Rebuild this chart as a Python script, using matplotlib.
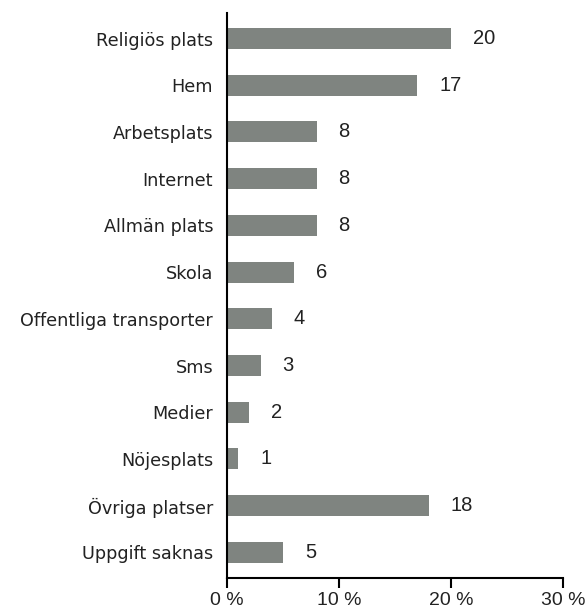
import matplotlib.pyplot as plt
import numpy as np

# Kategorier och värden (procent)
platser = ["Religiös plats", "Hem", "Arbetsplats", "Internet", "Allmän plats",
           "Skola", "Offentliga transporter", "Sms", "Medier", "Nöjesplats",
           "Övriga platser", "Uppgift saknas"]
andel = [20, 17, 8, 8, 8, 6, 4, 3, 2, 1, 18, 5]
xticks = [0, 10, 20, 30]
xticklabels = ["0 %", "10 %", "20 %", "30 %"]

plt.rcParams['font.family'] = ['DejaVu Sans']
textfarg = "#222222"

fig = plt.figure(figsize=(5.87, 6.14), dpi=100)
ax = fig.add_axes([0.3867, 0.0586, 0.5725, 0.9204])

y = np.arange(len(platser))
ax.barh(y, andel, height=0.45, color="#7f8480")

for yi, v in zip(y, andel):
    ax.text(v + 1.95, yi, str(v), va="center", ha="left", fontsize=14.5,
            family=["Liberation Sans", "DejaVu Sans"], color=textfarg)

ax.set_yticks(y)
ax.set_yticklabels(platser, fontsize=12.7, color=textfarg)
ax.set_ylim(len(platser) - 0.45, -0.55)
ax.set_xlim(0, 30)
ax.set_xticks(xticks)
ax.set_xticklabels(xticklabels, fontsize=14, color=textfarg,
                   family=["Liberation Sans", "DejaVu Sans"])

ax.tick_params(axis="y", length=0, pad=10)
ax.tick_params(axis="x", direction="out", length=7, width=1.5, pad=3)

for s in ["top", "right"]:
    ax.spines[s].set_visible(False)
ax.spines["left"].set_linewidth(1.5)
ax.spines["bottom"].set_linewidth(1.5)

fig.savefig("out.png", dpi=100)
